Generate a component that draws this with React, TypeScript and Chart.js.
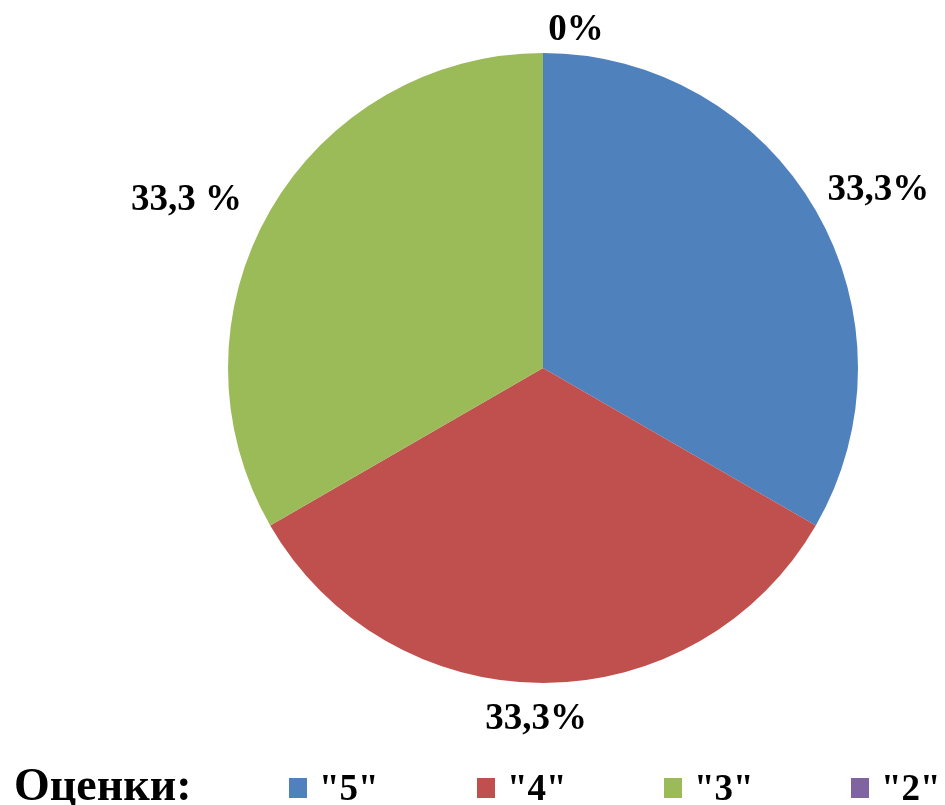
import React, { useEffect, useRef } from "react";
import { Chart, registerables } from "chart.js";

Chart.register(...registerables);

const categories = ['"5"', '"4"', '"3"', '"2"'];
const values = [33.3, 33.3, 33.3, 0];
const pctLabels = ["33,3%", "33,3%", "33,3 %", "0%"];
const colors = ["#4F81BD", "#C0504D", "#9BBB59", "#8064A2"];
const legendTitle = "Оценки:";

// label nudges (styling)
const labelNudge = [
  { dx: 28, dy: 0 },
  { dx: -7, dy: -4 },
  { dx: -49, dy: 10 },
  { dx: 33, dy: 17 },
];

const FONT = '"Liberation Serif", "Times New Roman", serif';

const labelPlugin = {
  id: "pctLabels",
  afterDatasetsDraw(chart: any) {
    const ctx = chart.ctx;
    const meta = chart.getDatasetMeta(0);
    ctx.save();
    ctx.fillStyle = "#000";
    ctx.font = `bold 37px ${FONT}`;
    ctx.textAlign = "center";
    ctx.textBaseline = "middle";
    meta.data.forEach((arc: any, i: number) => {
      const p = arc.getProps(["x", "y", "startAngle", "endAngle", "outerRadius"], true);
      const mid = (p.startAngle + p.endAngle) / 2;
      const d = p.outerRadius + 40;
      const x = p.x + Math.cos(mid) * d + labelNudge[i].dx;
      const y = p.y + Math.sin(mid) * d + labelNudge[i].dy;
      ctx.fillText(pctLabels[i], x, y);
    });
    ctx.restore();
  },
};

const legendPlugin = {
  id: "customLegend",
  afterDraw(chart: any) {
    const ctx = chart.ctx;
    ctx.save();
    ctx.fillStyle = "#000";
    ctx.textAlign = "left";
    ctx.textBaseline = "alphabetic";
    ctx.font = `bold 46px ${FONT}`;
    ctx.fillText(legendTitle, 14, 800);
    ctx.font = `bold 37px ${FONT}`;
    const xs = [289, 477, 664, 851];
    categories.forEach((c, i) => {
      ctx.fillStyle = colors[i];
      ctx.fillRect(xs[i], 778, 18, 20);
      ctx.fillStyle = "#000";
      ctx.fillText(c, xs[i] + 30, 800);
    });
    ctx.restore();
  },
};

export default function App() {
  const ref = useRef<HTMLCanvasElement>(null);
  useEffect(() => {
    if (!ref.current) return;
    const chart = new Chart(ref.current, {
      type: "pie",
      data: {
        labels: categories,
        datasets: [
          {
            data: values,
            backgroundColor: colors,
            borderWidth: 0,
          },
        ],
      },
      options: {
        animation: false,
        responsive: false,
        maintainAspectRatio: false,
        layout: { padding: { left: 228, right: 87, top: 53, bottom: 122 } },
        plugins: {
          legend: { display: false },
          tooltip: { enabled: false },
        },
      },
      plugins: [labelPlugin, legendPlugin],
    });
    return () => chart.destroy();
  }, []);
  return (
    <div style={{ position: "fixed", left: 0, top: 0, width: 945, height: 805, background: "#fff" }}>
      <canvas ref={ref} width={945} height={805} style={{ width: 945, height: 805 }} />
    </div>
  );
}
